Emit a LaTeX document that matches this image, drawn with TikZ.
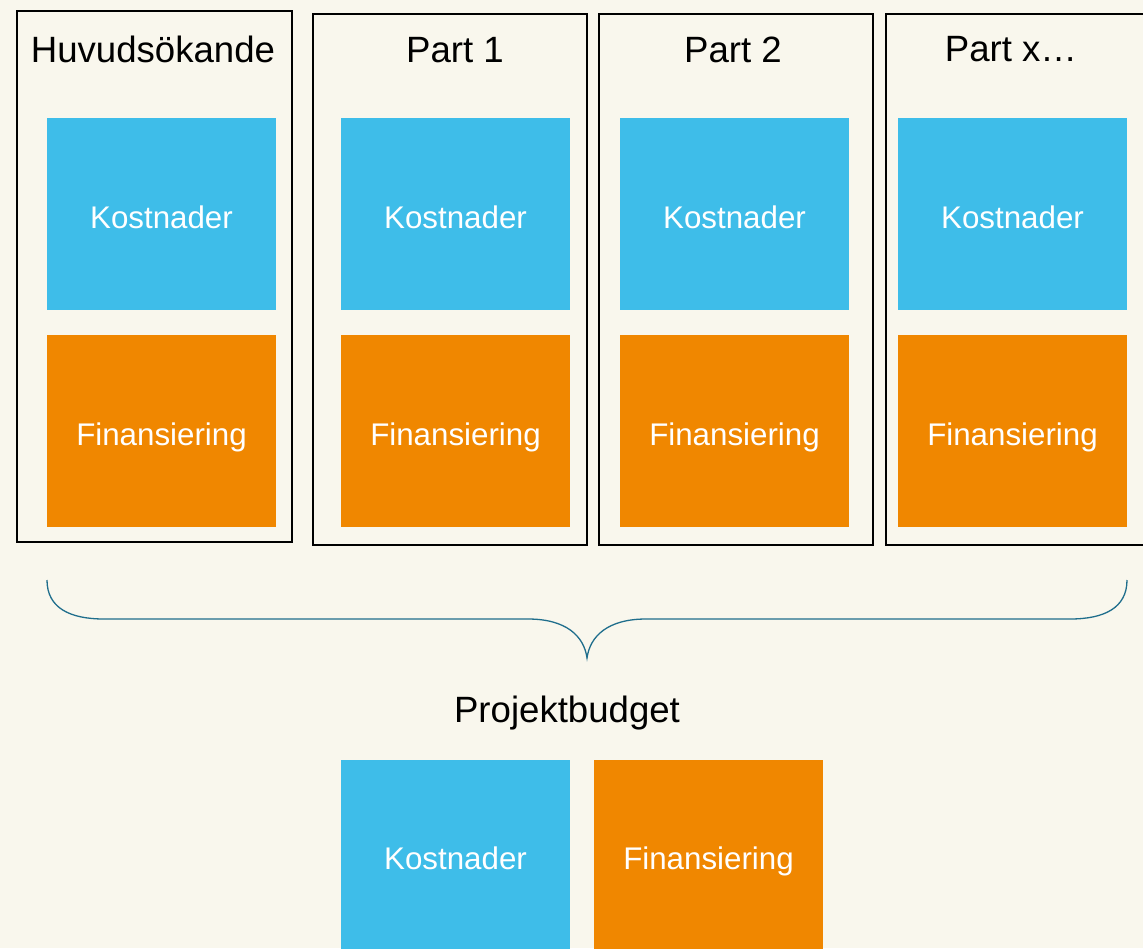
\documentclass[tikz,border=0pt]{standalone}
\usepackage{fontspec}
\setmainfont{Liberation Sans}
\definecolor{bg}{RGB}{249,247,237}
\definecolor{kblue}{RGB}{62,189,233}
\definecolor{forange}{RGB}{240,135,0}
\definecolor{bracecol}{RGB}{31,110,140}
\begin{document}
\begin{tikzpicture}[x=1pt,y=-1pt,
  frame/.style={draw=black,line width=2pt},
  cell/.style={minimum width=229pt,minimum height=192pt,inner sep=0pt,draw=none},
  kost/.style={cell,fill=kblue},
  fin/.style={cell,fill=forange},
  celltext/.style={anchor=base,text=white,font=\fontsize{31.3}{36}\selectfont,inner sep=0pt},
  title/.style={anchor=base,text=black,font=\fontsize{36.6}{42}\selectfont,inner sep=0pt},
  bracepath/.style={draw=bracecol,line width=1.3pt}]
\useasboundingbox (0,0) rectangle (1143,948);
\fill[bg] (0,0) rectangle (1143,948);
\begin{scope}
\clip (0,0) rectangle (1143,948);
% frames
\draw[frame] (17,11) rectangle (292,542);
\draw[frame] (313,14) rectangle (587,545);
\draw[frame] (599,14) rectangle (873,545);
\draw[frame] (886,14) rectangle (1160,545);
% titles
\node[title] (t0) at (153,62) {Huvudsökande};
\node[title] (t1) at (455,62) {Part 1};
\node[title] (t2) at (733,62) {Part 2};
\node[title] (t3) at (1011,61) {Part x…};
% cells
\foreach \i/\cx in {0/161.5,1/455.5,2/734.5,3/1012.5}{
  \node[kost] (k\i) at (\cx,214) {};
  \node[celltext] (kt\i) at (\cx,228) {Kostnader};
  \node[fin] (f\i) at (\cx,431) {};
  \node[celltext] (ft\i) at (\cx,445) {Finansiering};
}
% brace
\coordinate (bl) at (47,580);
\coordinate (br) at (1127,580);
\coordinate (tip) at (587,658);
\draw[bracepath] (bl) .. controls (47,608) and (70,619) .. (104,619) -- (528,619)
  .. controls (566,619) and (584,636) .. (tip)
  .. controls (590,636) and (608,619) .. (646,619) -- (1070,619)
  .. controls (1104,619) and (1127,608) .. (br);
% project budget
\node[title] (pb) at (567,722) {Projektbudget};
\node[kost] (kb) at (455.5,856) {};
\node[celltext] (kbt) at (455.5,869) {Kostnader};
\node[fin] (fb) at (708.5,856) {};
\node[celltext] (fbt) at (708.5,869) {Finansiering};
\end{scope}
\end{tikzpicture}
\end{document}
